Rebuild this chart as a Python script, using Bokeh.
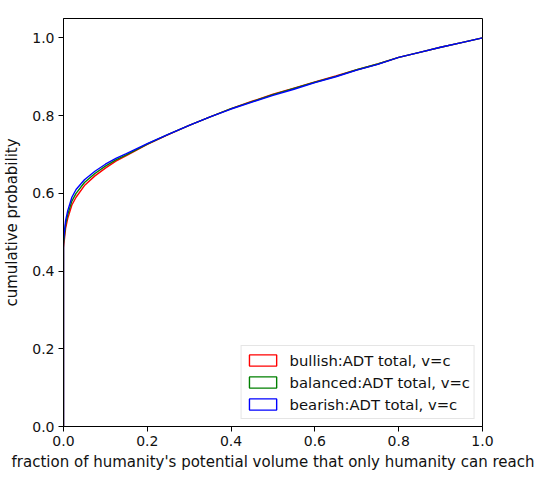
from bokeh.plotting import figure
from bokeh.models import (ColumnDataSource, Legend, LegendItem, FixedTicker,
                          PrintfTickFormatter, Range1d)
from bokeh.embed import file_html
from bokeh.resources import INLINE

# fraction of humanity's potential volume (x)
x_vals = [0.0, 0.0, 0.005, 0.01, 0.02, 0.03, 0.05, 0.075, 0.1, 0.125, 0.15,
          0.2, 0.25, 0.3, 0.35, 0.4, 0.45, 0.5, 0.55, 0.6, 0.65, 0.7,
          0.75, 0.8, 0.85, 0.9, 0.95, 1.0]

# cumulative probability for each scenario
bullish = [0.0, 0.46, 0.51, 0.535, 0.57, 0.59, 0.62, 0.645, 0.665, 0.683, 0.697,
           0.726, 0.751, 0.775, 0.797, 0.818, 0.837, 0.855, 0.871, 0.887, 0.902,
           0.918, 0.933, 0.950, 0.963, 0.976, 0.988, 1.0]
balanced = [0.0, 0.47, 0.52, 0.545, 0.58, 0.60, 0.628, 0.651, 0.670, 0.686, 0.699,
            0.727, 0.752, 0.775, 0.797, 0.818, 0.836, 0.854, 0.870, 0.886, 0.901,
            0.918, 0.933, 0.950, 0.963, 0.976, 0.988, 1.0]
bearish = [0.0, 0.48, 0.53, 0.555, 0.59, 0.61, 0.635, 0.657, 0.675, 0.690, 0.702,
           0.728, 0.752, 0.775, 0.797, 0.817, 0.835, 0.852, 0.868, 0.885, 0.900,
           0.917, 0.932, 0.950, 0.963, 0.976, 0.988, 1.0]

labels = ["bullish:ADT total, v=c", "balanced:ADT total, v=c", "bearish:ADT total, v=c"]
colors = ["#ff0000", "#008000", "#0000ff"]
series = [bullish, balanced, bearish]
ticks = [0.0, 0.2, 0.4, 0.6, 0.8, 1.0]

FONT = "DejaVu Sans"

p = figure(width=536, height=476, output_backend="svg", toolbar_location=None,
           x_range=Range1d(0, 1), y_range=Range1d(0, 1.05),
           min_border_left=63, min_border_right=54, min_border_top=18,
           min_border_bottom=50)
p.grid.visible = False
p.outline_line_color = "black"
p.outline_line_width = 1
p.background_fill_color = "white"
p.border_fill_color = "white"

for ax in (p.xaxis[0], p.yaxis[0]):
    ax.ticker = FixedTicker(ticks=ticks)
    ax.formatter = PrintfTickFormatter(format="%.1f")
    ax.major_label_text_font = FONT
    ax.major_label_text_font_size = "14px"
    ax.major_label_text_color = "#111111"
    ax.axis_label_text_font = FONT
    ax.axis_label_text_font_size = "15px"
    ax.axis_label_text_font_style = "normal"
    ax.axis_label_text_color = "#111111"
    ax.axis_line_color = "black"
    ax.major_tick_line_color = "black"
    ax.major_tick_in = 0
    ax.major_tick_out = 5
    ax.minor_tick_line_color = None
    ax.major_label_standoff = 4

p.xaxis[0].axis_label_standoff = 4
p.yaxis[0].axis_label_standoff = 8
p.xaxis.axis_label = "fraction of humanity's potential volume that only humanity can reach"
p.yaxis.axis_label = "cumulative probability"

items = []
for ys, c, lab in zip(series, colors, labels):
    src = ColumnDataSource(dict(x=x_vals, y=ys))
    p.line("x", "y", source=src, line_color=c, line_width=1.4)
    # zero-size outline patch at the curve's start, used only as the legend swatch
    dummy = p.quad(left=[x_vals[0]], right=[x_vals[0]], top=[ys[0]], bottom=[ys[0]],
                   fill_alpha=0, line_color=c, line_width=1.4)
    items.append(LegendItem(label=lab, renderers=[dummy]))

legend = Legend(items=items, location="bottom_right")
legend.label_text_font = FONT
legend.label_text_font_size = "14.8px"
legend.label_text_color = "#111111"
legend.border_line_color = "#cccccc"
legend.border_line_width = 1
legend.background_fill_alpha = 0.8
legend.glyph_width = 34
legend.glyph_height = 14
legend.label_height = 20
legend.spacing = 2
legend.padding = 4
legend.label_standoff = 10
legend.margin = 7
p.add_layout(legend, "center")

open("out.html", "w").write(file_html(p, INLINE))
